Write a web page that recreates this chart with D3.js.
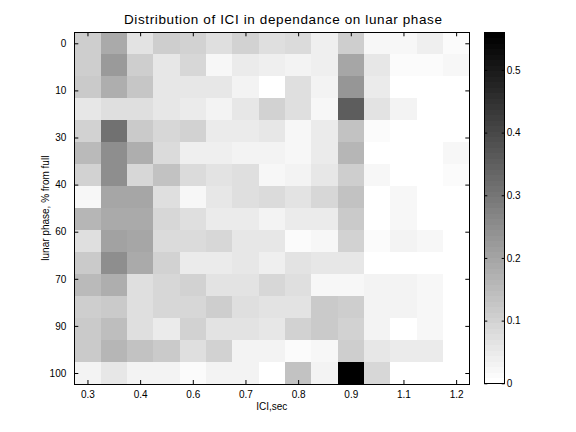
<!DOCTYPE html>
<html>
<head>
<meta charset="utf-8">
<script src="https://cdn.jsdelivr.net/npm/d3@7"></script>
<style>
  body { margin: 0; background: #fff; }
  text { font-family: "Liberation Sans", Arial, Helvetica, sans-serif; fill: #000; }
</style>
</head>
<body>
<svg id="chart"></svg>
<script>
// Heatmap: share of ICI bins per lunar phase bin (grayscale, white = 0)
const width = 576;
const height = 432;

// ICI column ticks (labels as printed, rounded) and the column they sit on
const xTickCols = [0, 2, 4, 6, 8, 10, 12, 14];
const xTickLabels = ["0.3", "0.4", "0.6", "0.7", "0.8", "0.9", "1.1", "1.2"];

// lunar phase ticks (row positions) and labels
const yTickRows = [0, 2.143, 4.286, 6.429, 8.571, 10.714, 12.857, 15];
const yTickLabels = ["0", "10", "30", "40", "60", "70", "90", "100"];

// colorbar
const cbarMax = 0.56;
const cbarTicks = [0, 0.1, 0.2, 0.3, 0.4, 0.5];

// values, one row per lunar phase bin (16), one column per ICI bin (15)
const values = [
  [0.110, 0.187, 0.066, 0.110, 0.099, 0.072, 0.103, 0.077, 0.081, 0.037, 0.110, 0.022, 0.022, 0.037, 0.015],
  [0.110, 0.220, 0.110, 0.059, 0.088, 0.022, 0.051, 0.037, 0.029, 0.037, 0.198, 0.059, 0.015, 0.015, 0.022],
  [0.121, 0.176, 0.125, 0.055, 0.059, 0.059, 0.033, 0.000, 0.072, 0.033, 0.235, 0.044, 0.000, 0.000, 0.000],
  [0.059, 0.072, 0.072, 0.059, 0.044, 0.029, 0.055, 0.099, 0.072, 0.022, 0.351, 0.066, 0.029, 0.000, 0.000],
  [0.099, 0.307, 0.121, 0.094, 0.103, 0.044, 0.044, 0.055, 0.022, 0.044, 0.132, 0.015, 0.000, 0.000, 0.000],
  [0.154, 0.253, 0.176, 0.081, 0.037, 0.037, 0.029, 0.033, 0.022, 0.044, 0.165, 0.000, 0.000, 0.000, 0.022],
  [0.099, 0.253, 0.088, 0.132, 0.081, 0.066, 0.072, 0.022, 0.033, 0.059, 0.110, 0.022, 0.000, 0.000, 0.011],
  [0.026, 0.198, 0.198, 0.077, 0.022, 0.055, 0.077, 0.081, 0.066, 0.088, 0.132, 0.000, 0.022, 0.000, 0.000],
  [0.165, 0.187, 0.187, 0.094, 0.077, 0.051, 0.044, 0.033, 0.051, 0.051, 0.121, 0.000, 0.022, 0.000, 0.000],
  [0.077, 0.209, 0.198, 0.081, 0.081, 0.088, 0.059, 0.059, 0.011, 0.022, 0.099, 0.015, 0.033, 0.022, 0.000],
  [0.121, 0.253, 0.187, 0.099, 0.044, 0.044, 0.059, 0.037, 0.066, 0.055, 0.055, 0.000, 0.000, 0.000, 0.000],
  [0.154, 0.176, 0.077, 0.088, 0.099, 0.066, 0.066, 0.088, 0.077, 0.022, 0.022, 0.033, 0.029, 0.022, 0.000],
  [0.110, 0.121, 0.077, 0.088, 0.088, 0.110, 0.072, 0.066, 0.066, 0.121, 0.110, 0.033, 0.029, 0.022, 0.000],
  [0.121, 0.143, 0.077, 0.044, 0.099, 0.066, 0.066, 0.059, 0.099, 0.121, 0.099, 0.033, 0.000, 0.022, 0.000],
  [0.121, 0.165, 0.132, 0.121, 0.072, 0.099, 0.033, 0.033, 0.011, 0.022, 0.110, 0.055, 0.044, 0.044, 0.000],
  [0.033, 0.059, 0.033, 0.033, 0.011, 0.033, 0.033, 0.000, 0.132, 0.033, 0.560, 0.088, 0.000, 0.000, 0.000]
];

const plot = { left: 74.3, right: 469.3, top: 32.3, bottom: 384 };
const cbar = { left: 484.3, right: 504.7, top: 32.3, bottom: 383.3 };
const tickLen = 4;

function drawChart() {
  const svg = d3.select("#chart")
    .attr("width", width)
    .attr("height", height);

  const nCols = values[0].length;
  const nRows = values.length;

  const x = d3.scaleBand().domain(d3.range(nCols)).range([plot.left, plot.right]);
  const y = d3.scaleLinear().domain([-0.5, nRows - 0.5]).range([plot.top, plot.bottom]);
  // MATLAB style gray colormap, reversed (0 = white), 64 levels
  const levels = d3.range(64).map(i => d3.interpolateRgb("#fff", "#000")(i / 63));
  const color = d3.scaleQuantize().domain([0, cbarMax]).range(levels);

  // cells
  const cells = [];
  values.forEach((row, r) => row.forEach((v, c) => cells.push({ r, c, v })));
  svg.append("g")
    .attr("shape-rendering", "crispEdges")
    .selectAll("rect")
    .data(cells)
    .join("rect")
    .attr("x", d => x(d.c))
    .attr("y", d => y(d.r - 0.5))
    .attr("width", x.bandwidth())
    .attr("height", y(0.5) - y(-0.5))
    .attr("fill", d => color(d.v));

  // axes (ticks point inward, like MATLAB)
  const xPos = d3.scaleLinear().domain([-0.5, nCols - 0.5]).range([plot.left, plot.right]);
  const fmtX = d => xTickLabels[xTickCols.indexOf(d)];
  const fmtY = d => yTickLabels[yTickRows.indexOf(d)];

  const axisStyle = g => {
    g.select(".domain").remove();
    g.selectAll("line").attr("stroke", "#000");
    g.selectAll("text").attr("font-size", 10).attr("font-family", "Liberation Sans, Arial, sans-serif");
  };

  svg.append("g")
    .attr("transform", `translate(0,${plot.bottom})`)
    .call(d3.axisBottom(xPos).tickValues(xTickCols).tickFormat(fmtX).tickSizeInner(-tickLen).tickSizeOuter(0).tickPadding(6.5))
    .call(axisStyle);
  svg.append("g")
    .attr("transform", `translate(0,${plot.top})`)
    .call(d3.axisTop(xPos).tickValues(xTickCols).tickFormat("").tickSizeInner(-tickLen).tickSizeOuter(0))
    .call(axisStyle);
  svg.append("g")
    .attr("transform", `translate(${plot.left},0)`)
    .call(d3.axisLeft(y).tickValues(yTickRows).tickFormat(fmtY).tickSizeInner(-tickLen).tickSizeOuter(0).tickPadding(8))
    .call(axisStyle);
  svg.append("g")
    .attr("transform", `translate(${plot.right},0)`)
    .call(d3.axisRight(y).tickValues(yTickRows).tickFormat("").tickSizeInner(-tickLen).tickSizeOuter(0))
    .call(axisStyle);

  svg.append("rect")
    .attr("x", plot.left).attr("y", plot.top)
    .attr("width", plot.right - plot.left).attr("height", plot.bottom - plot.top)
    .attr("fill", "none").attr("stroke", "#000").attr("stroke-width", 1)
    .attr("shape-rendering", "crispEdges");

  // titles
  svg.append("text")
    .attr("x", 124).attr("y", 24.3)
    .attr("font-size", 13.5)
    .attr("textLength", 318).attr("lengthAdjust", "spacing")
    .text("Distribution of ICI in dependance on lunar phase");
  svg.append("text")
    .attr("x", (plot.left + plot.right) / 2).attr("y", 409.5)
    .attr("text-anchor", "middle").attr("font-size", 10)
    .text("ICI,sec");
  svg.append("text")
    .attr("transform", `translate(49,${(plot.top + plot.bottom) / 2}) rotate(-90)`)
    .attr("text-anchor", "middle").attr("font-size", 10)
    .text("lunar phase, % from full");

  // colorbar
  const cy = d3.scaleLinear().domain([0, cbarMax]).range([cbar.bottom, cbar.top]);
  const step = cbarMax / levels.length;
  svg.append("g")
    .attr("shape-rendering", "crispEdges")
    .selectAll("rect")
    .data(levels)
    .join("rect")
    .attr("x", cbar.left)
    .attr("width", cbar.right - cbar.left)
    .attr("y", (d, i) => cy((i + 1) * step))
    .attr("height", (d, i) => cy(i * step) - cy((i + 1) * step) + 0.5)
    .attr("fill", d => d);

  svg.append("g")
    .attr("transform", `translate(${cbar.right},0)`)
    .call(d3.axisRight(cy).tickValues(cbarTicks).tickFormat(d3.format("")).tickSizeInner(-3).tickSizeOuter(0).tickPadding(2))
    .call(axisStyle);
  svg.append("g")
    .attr("transform", `translate(${cbar.left},0)`)
    .call(d3.axisLeft(cy).tickValues(cbarTicks).tickFormat("").tickSizeInner(-3).tickSizeOuter(0))
    .call(axisStyle);
  svg.append("rect")
    .attr("x", cbar.left).attr("y", cbar.top)
    .attr("width", cbar.right - cbar.left).attr("height", cbar.bottom - cbar.top)
    .attr("fill", "none").attr("stroke", "#000")
    .attr("shape-rendering", "crispEdges");
}

drawChart();
</script>
</body>
</html>
